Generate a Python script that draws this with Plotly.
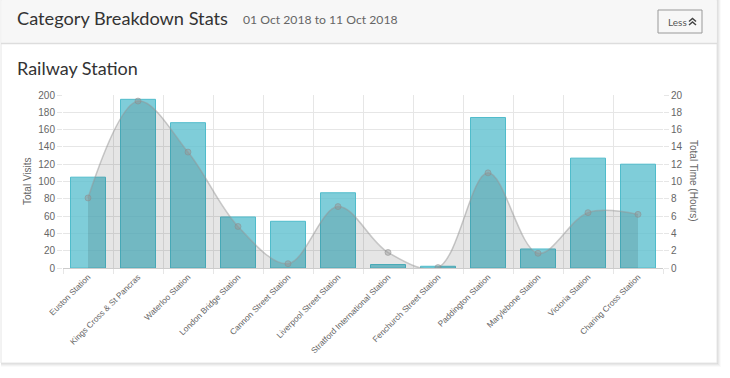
import plotly.graph_objects as go

stations = ["Euston Station", "Kings Cross & St Pancras", "Waterloo Station", "London Bridge Station",
            "Cannon Street Station", "Liverpool Street Station", "Stratford International Station",
            "Fenchurch Street Station", "Paddington Station", "Marylebone Station", "Victoria Station",
            "Charing Cross Station"]
total_visits = [105, 195, 168, 59, 54, 87, 4, 2, 174, 22, 127, 120]
total_hours = [8.1, 19.3, 13.4, 4.8, 0.5, 7.1, 1.8, 0.05, 11.0, 1.7, 6.4, 6.2]
left_ticks = list(range(0, 201, 20))
right_ticks = list(range(0, 21, 2))

W, H = 730, 378
PL, PR, PT, PB = 63, 663, 95, 268


def px(x):
    return (x - PL) / (PR - PL)


def py(y):
    return (PB - y) / (PB - PT)


fig = go.Figure()
fig.add_trace(go.Bar(
    x=stations, y=total_visits, yaxis="y",
    marker=dict(color="rgba(95,192,207,0.8)", line=dict(color="rgba(80,188,203,1)", width=1)),
    hoverinfo="x+y", showlegend=False,
))
fig.add_trace(go.Scatter(
    x=stations, y=total_hours, yaxis="y2", mode="lines+markers",
    line=dict(shape="spline", smoothing=1.0, color="rgba(150,150,150,0.5)", width=1.5),
    marker=dict(size=6, color="rgba(150,150,150,0.45)", line=dict(color="rgba(140,140,140,0.5)", width=1)),
    fill="tozeroy", fillcolor="rgba(0,0,0,0.1)", showlegend=False,
))

shapes = []
# card shadow
for i, a in enumerate([0.05, 0.04, 0.03, 0.02]):
    o = i + 1
    shapes.append(dict(type="rect", xref="paper", yref="paper",
                       x0=px(1), x1=px(717 + o), y0=py(0), y1=py(363 + o),
                       fillcolor=f"rgba(0,0,0,{a})", line=dict(width=0), layer="below"))
# card body
shapes.append(dict(type="rect", xref="paper", yref="paper", x0=px(1), x1=px(717), y0=py(0), y1=py(363),
                   fillcolor="white", line=dict(color="#e6e6e6", width=1), layer="below"))
# header
shapes.append(dict(type="rect", xref="paper", yref="paper", x0=px(1.5), x1=px(716.5), y0=py(0), y1=py(43),
                   fillcolor="#f7f7f7", line=dict(width=0), layer="below"))
shapes.append(dict(type="line", xref="paper", yref="paper", x0=px(1), x1=px(717), y0=py(43.5), y1=py(43.5),
                   line=dict(color="#dddddd", width=1.5), layer="below"))
# button
shapes.append(dict(type="rect", xref="paper", yref="paper", x0=px(658), x1=px(702), y0=py(10), y1=py(33),
                   fillcolor="#f7f7f7", line=dict(color="#999999", width=1), layer="above"))
# double chevron icon
for cy in (18.5, 22.0):
    x0, x1, x2 = px(689), px(692.5), px(696)
    y0, y1 = py(cy + 3), py(cy)
    shapes.append(dict(type="path", xref="paper", yref="paper",
                       path=f"M {x0},{y0} L {x1},{y1} L {x2},{y0}",
                       line=dict(color="#444444", width=1.5), layer="above"))

annotations = [
    dict(text="Category Breakdown Stats", x=px(15), y=py(18), xref="paper", yref="paper",
         xanchor="left", yanchor="middle", showarrow=False,
         font=dict(family="Lato, sans-serif", size=18.2, color="#333333")),
    dict(text="01 Oct 2018 to 11 Oct 2018", x=px(241), y=py(19), xref="paper", yref="paper",
         xanchor="left", yanchor="middle", showarrow=False,
         font=dict(family="Lato, sans-serif", size=12.2, color="#666666")),
    dict(text="Less", x=px(666), y=py(21.5), xref="paper", yref="paper",
         xanchor="left", yanchor="middle", showarrow=False,
         font=dict(family="Lato, sans-serif", size=10, color="#555555")),
    dict(text="Railway Station", x=px(15), y=py(68), xref="paper", yref="paper",
         xanchor="left", yanchor="middle", showarrow=False,
         font=dict(family="Lato, sans-serif", size=18, color="#333333")),
    dict(text="Total Visits", x=px(27), y=py(181), xref="paper", yref="paper",
         xanchor="center", yanchor="middle", showarrow=False, textangle=-90,
         font=dict(family="Liberation Sans, Arial, sans-serif", size=10, color="#666666")),
    dict(text="Total Time (Hours)", x=px(694), y=py(181), xref="paper", yref="paper",
         xanchor="center", yanchor="middle", showarrow=False, textangle=90,
         font=dict(family="Liberation Sans, Arial, sans-serif", size=10, color="#666666")),
]

tickfont = dict(family="Liberation Sans, Arial, sans-serif", size=10, color="#666666")
fig.update_layout(
    width=W, height=H,
    margin=dict(l=PL, r=W - PR, t=PT, b=H - PB),
    paper_bgcolor="white", plot_bgcolor="rgba(0,0,0,0)",
    bargap=0.3,
    xaxis=dict(type="category", tickson="boundaries", showgrid=True, gridcolor="#e6e6e6",
               tickangle=-45, tickfont=dict(family="Liberation Sans, Arial, sans-serif", size=8.3, color="#666666"),
               showline=True, linecolor="#cccccc", ticks="outside", ticklen=5, tickcolor="#e6e6e6",
               zeroline=False, fixedrange=True),
    yaxis=dict(range=[0, 200], tickvals=left_ticks, showgrid=True, gridcolor="#e6e6e6",
               tickfont=tickfont, ticks="outside", ticklen=5, tickcolor="#e6e6e6",
               zeroline=False, showline=False, fixedrange=True),
    yaxis2=dict(range=[0, 20], tickvals=right_ticks, overlaying="y", side="right", showgrid=False,
                tickfont=tickfont, ticks="outside", ticklen=5, tickcolor="#e6e6e6",
                zeroline=False, showline=False, fixedrange=True),
    shapes=shapes, annotations=annotations,
)

fig.write_html("out.html", config={"displayModeBar": False},
               post_script="document.body.style.margin='0';document.body.style.overflow='hidden';")
